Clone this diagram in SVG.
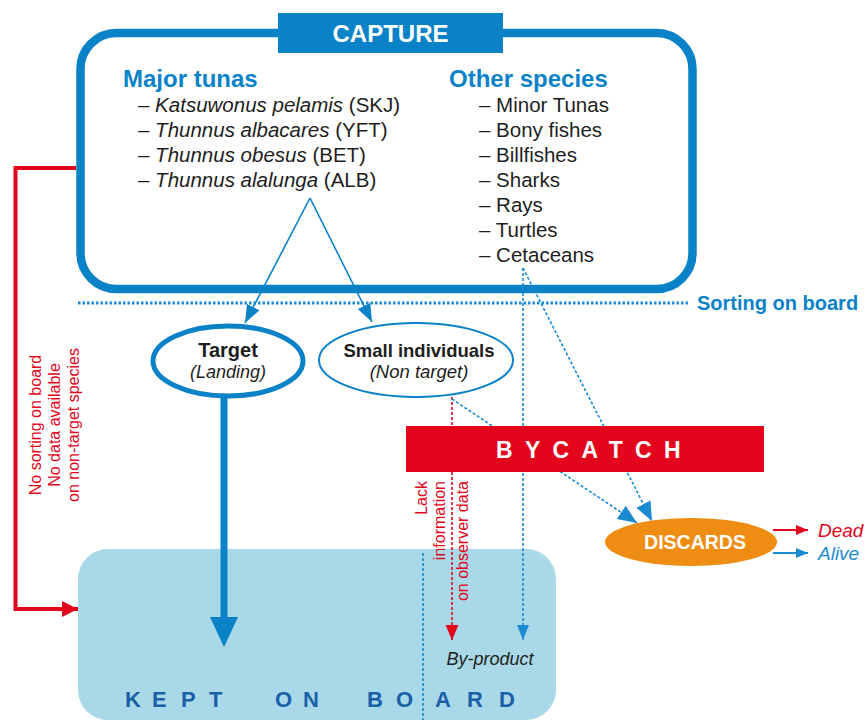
<svg xmlns="http://www.w3.org/2000/svg" width="867" height="720" viewBox="0 0 867 720">
<style>
text{font-family:"Liberation Sans",Arial,sans-serif;}
.hd{font-size:24px;font-weight:bold;fill:#0a82c8;}
.it{font-size:20.5px;fill:#1e1e1e;}
.i{font-style:italic;}
.red{fill:#e3051b;}
.dot{fill:none;stroke:#1a8bd0;stroke-width:1.6;stroke-dasharray:3 2;}
.rdot{fill:none;stroke:#e3051b;stroke-width:1.6;stroke-dasharray:3 2;}
</style>
<defs>
<marker id="aT" markerUnits="userSpaceOnUse" markerWidth="20" markerHeight="16" refX="18" refY="7" orient="auto"><path d="M0,0 L18,7 L0,14 z" fill="#0a82c8"/></marker>
<marker id="aS" markerUnits="userSpaceOnUse" markerWidth="16" markerHeight="14" refX="15" refY="6" orient="auto"><path d="M0,0 L15,6 L0,12 z" fill="#1a8bd0"/></marker>
<marker id="aSR" markerUnits="userSpaceOnUse" markerWidth="16" markerHeight="14" refX="15" refY="6.5" orient="auto"><path d="M0,0 L15,6.5 L0,13 z" fill="#e3051b"/></marker>
<marker id="aD" markerUnits="userSpaceOnUse" markerWidth="20" markerHeight="18" refX="19" refY="8" orient="auto"><path d="M0,0 L19,8 L0,16 z" fill="#1a8bd0"/></marker>
<marker id="aR" markerUnits="userSpaceOnUse" markerWidth="18" markerHeight="18" refX="16" refY="8" orient="auto"><path d="M0,0 L16,8 L0,16 z" fill="#e3051b"/></marker>
<marker id="aSmR" markerUnits="userSpaceOnUse" markerWidth="14" markerHeight="12" refX="12" refY="5" orient="auto"><path d="M0,0 L12,5 L0,10 z" fill="#e3051b"/></marker>
<marker id="aSmB" markerUnits="userSpaceOnUse" markerWidth="14" markerHeight="12" refX="12" refY="5" orient="auto"><path d="M0,0 L12,5 L0,10 z" fill="#1a8bd0"/></marker>
</defs>

<g id="kept">
<rect x="78" y="549" width="478" height="171" rx="30" fill="#a9d9e8"/>
<line x1="423" y1="553" x2="423" y2="720" class="dot"/>
<g font-size="22" font-weight="bold" fill="#1b5fa8">
<text x="125" y="707">K</text><text x="152" y="707">E</text><text x="181" y="707">P</text><text x="209" y="707">T</text>
<text x="275" y="707">O</text><text x="303" y="707">N</text>
<text x="367" y="707">B</text><text x="396" y="707">O</text><text x="435" y="707">A</text><text x="467" y="707">R</text><text x="499" y="707">D</text>
</g>
<text x="490" y="665" font-size="18" font-style="italic" fill="#1e1e1e" text-anchor="middle">By-product</text>
</g>

<g id="capture">
<rect x="80.5" y="33" width="612" height="256" rx="36" fill="none" stroke="#0a82c8" stroke-width="8.5"/>
<rect x="278" y="13" width="225" height="40" fill="#0a82c8"/>
<text x="390.5" y="42" font-size="24" font-weight="bold" fill="#fff" text-anchor="middle">CAPTURE</text>
<text x="123" y="87" class="hd">Major tunas</text>
<text x="138" y="112" class="it">– <tspan class="i">Katsuwonus pelamis</tspan> (SKJ)</text>
<text x="138" y="137" class="it">– <tspan class="i">Thunnus albacares</tspan> (YFT)</text>
<text x="138" y="162" class="it">– <tspan class="i">Thunnus obesus</tspan> (BET)</text>
<text x="138" y="187" class="it">– <tspan class="i">Thunnus alalunga</tspan> (ALB)</text>
<text x="449" y="87" class="hd">Other species</text>
<text x="479" y="112" class="it">– Minor Tunas</text>
<text x="479" y="137" class="it">– Bony fishes</text>
<text x="479" y="162" class="it">– Billfishes</text>
<text x="479" y="187" class="it">– Sharks</text>
<text x="479" y="212" class="it">– Rays</text>
<text x="479" y="237" class="it">– Turtles</text>
<text x="479" y="262" class="it">– Cetaceans</text>
</g>

<g id="sorting">
<line x1="78" y1="303" x2="690" y2="303" stroke="#1a8bd0" stroke-width="3" stroke-dasharray="2.5 2"/>
<text x="697" y="310" font-size="20" font-weight="bold" fill="#0a82c8">Sorting on board</text>
</g>

<g id="connectors">
<path d="M76,168 H15.5 V609 H78" fill="none" stroke="#e3051b" stroke-width="4" marker-end="url(#aR)"/>
<line x1="310" y1="198" x2="245" y2="323" stroke="#0a82c8" stroke-width="1.6" marker-end="url(#aT)"/>
<line x1="310" y1="198" x2="372" y2="322" stroke="#0a82c8" stroke-width="1.6" marker-end="url(#aT)"/>
<rect x="220.5" y="396" width="7" height="222" fill="#0a82c8"/>
<polygon points="210,617 238,617 224,647" fill="#0a82c8"/>
<line x1="452" y1="397" x2="452" y2="640" class="rdot" marker-end="url(#aSR)"/>
<line x1="523" y1="268" x2="523" y2="640" class="dot" marker-end="url(#aS)"/>
<line x1="523" y1="268" x2="652" y2="521" class="dot" marker-end="url(#aD)"/>
<line x1="452" y1="399" x2="637" y2="523" class="dot" marker-end="url(#aD)"/>
<line x1="773" y1="530" x2="808" y2="530" stroke="#e3051b" stroke-width="1.8" marker-end="url(#aSmR)"/>
<line x1="773" y1="553" x2="808" y2="553" stroke="#1a8bd0" stroke-width="1.8" marker-end="url(#aSmB)"/>
</g>

<g id="target">
<ellipse cx="228" cy="361" rx="75" ry="35" fill="#fff" stroke="#0a82c8" stroke-width="5"/>
<text x="228" y="357" font-size="20" font-weight="bold" fill="#1e1e1e" text-anchor="middle">Target</text>
<text x="228" y="378" font-size="18" font-style="italic" fill="#1e1e1e" text-anchor="middle">(Landing)</text>
</g>

<g id="small">
<ellipse cx="416" cy="360" rx="97" ry="37" fill="#fff" stroke="#0a82c8" stroke-width="2"/>
<text x="419" y="357" font-size="18.5" font-weight="bold" fill="#1e1e1e" text-anchor="middle">Small individuals</text>
<text x="419" y="378" font-size="18.5" font-style="italic" fill="#1e1e1e" text-anchor="middle">(Non target)</text>
</g>

<g id="bycatch">
<rect x="406" y="426" width="358" height="46" fill="#e3051b"/>
<text x="496" y="458" font-size="23" font-weight="bold" fill="#fff" letter-spacing="12.3">BYCATCH</text>
</g>

<g id="discards">
<ellipse cx="691" cy="542" rx="86" ry="24" fill="#ef8c12"/>
<text x="695" y="549" font-size="19.5" font-weight="bold" fill="#fff" text-anchor="middle">DISCARDS</text>
<text x="818" y="537" font-size="19" font-style="italic" class="red">Dead</text>
<text x="818" y="560" font-size="19" font-style="italic" fill="#1a8bd0">Alive</text>
</g>

<g id="notes" font-size="16" class="red">
<text transform="translate(41,425) rotate(-90)" text-anchor="middle">No sorting on board</text>
<text transform="translate(60,425) rotate(-90)" text-anchor="middle">No data available</text>
<text transform="translate(79,425) rotate(-90)" text-anchor="middle">on non-target species</text>
<text transform="translate(427,481) rotate(-90)" text-anchor="end">Lack</text>
<text transform="translate(445,481) rotate(-90)" text-anchor="end">information</text>
<text transform="translate(468,481) rotate(-90)" text-anchor="end">on observer data</text>
</g>
</svg>
